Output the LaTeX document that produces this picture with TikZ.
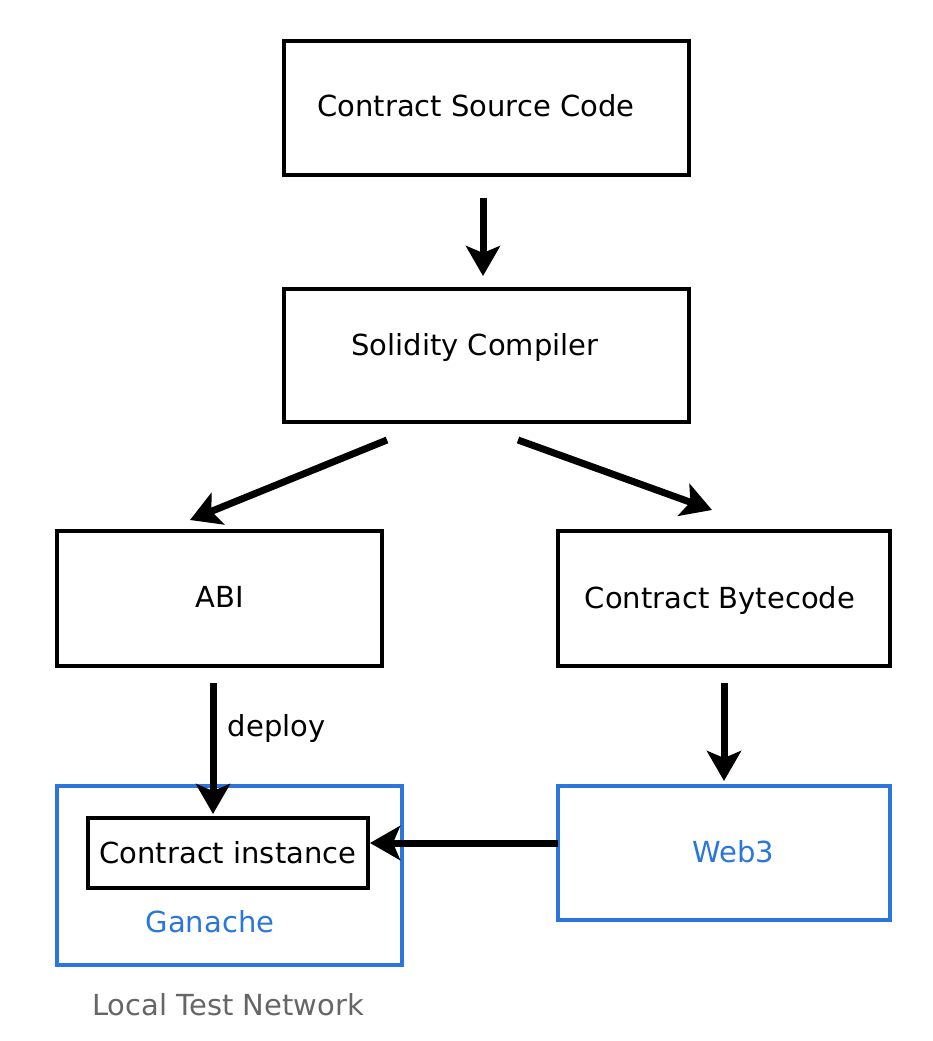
\documentclass[tikz,border=0pt]{standalone}
\usepackage{fontspec}
\setmainfont{DejaVu Sans}
\usetikzlibrary{arrows.meta}
\definecolor{bblue}{HTML}{2A76DD}
\definecolor{tgray}{HTML}{666666}
\begin{document}
\begin{tikzpicture}[x=1pt,y=-1pt,
  box/.style={draw=black,line width=4pt,minimum width=#1,inner sep=0pt},
  bluebox/.style={draw=bblue,line width=4pt,inner sep=0pt},
  txt/.style={font=\fontsize{29}{34}\selectfont},
  arr/.style={line width=7pt,-{Stealth[length=30pt,width=34pt,inset=7pt]}}]
\useasboundingbox (0,0) rectangle (932,1041);
% boxes
\node[box=405pt,minimum height=134pt] (src) at (486.5,108) {};
\node[txt] (srct) at (476,106) {Contract Source Code};
\node[box=405pt,minimum height=133pt] (sol) at (486.5,355.5) {};
\node[txt] (solt) at (475,347) {Solidity Compiler};
\node[box=325pt,minimum height=135pt] (abi) at (219.5,598.5) {};
\node[txt] (abit) at (220,597) {ABI};
\node[box=332pt,minimum height=135pt] (byt) at (724,598.5) {};
\node[txt] (bytt) at (720,600) {Contract Bytecode};
\node[bluebox,minimum width=345pt,minimum height=179pt] (gan) at (229.5,875.5) {};
\node[txt,text=bblue] (gant) at (210,922) {Ganache};
\node[box=280pt,minimum height=70pt] (inst) at (228,853) {};
\node[txt] (instt) at (228,853) {Contract instance};
\node[bluebox,minimum width=332pt,minimum height=134pt] (web) at (724,853) {};
\node[txt,text=bblue] (webt) at (733,852) {Web3};
\node[txt,text=tgray] (lnet) at (228,1005) {Local Test Network};
% connectors
\coordinate (a1s) at (483,198);
\coordinate (a1e) at (483,276);
\draw[arr] (a1s) -- (a1e);
\coordinate (a2s) at (387,440);
\coordinate (a2e) at (190,520);
\draw[arr] (a2s) -- (a2e);
\coordinate (a3s) at (518,440);
\coordinate (a3e) at (712,510);
\draw[arr] (a3s) -- (a3e);
\coordinate (a4s) at (213,683);
\coordinate (a4e) at (213,814);
\draw[arr] (a4s) -- node[right=8pt,txt,pos=0.35] (dep) {deploy} (a4e);
\coordinate (a5s) at (724,683);
\coordinate (a5e) at (724,781);
\draw[arr] (a5s) -- (a5e);
\coordinate (a6s) at (558,843);
\draw[arr] (a6s) -- (inst.east |- a6s);
\end{tikzpicture}
\end{document}
